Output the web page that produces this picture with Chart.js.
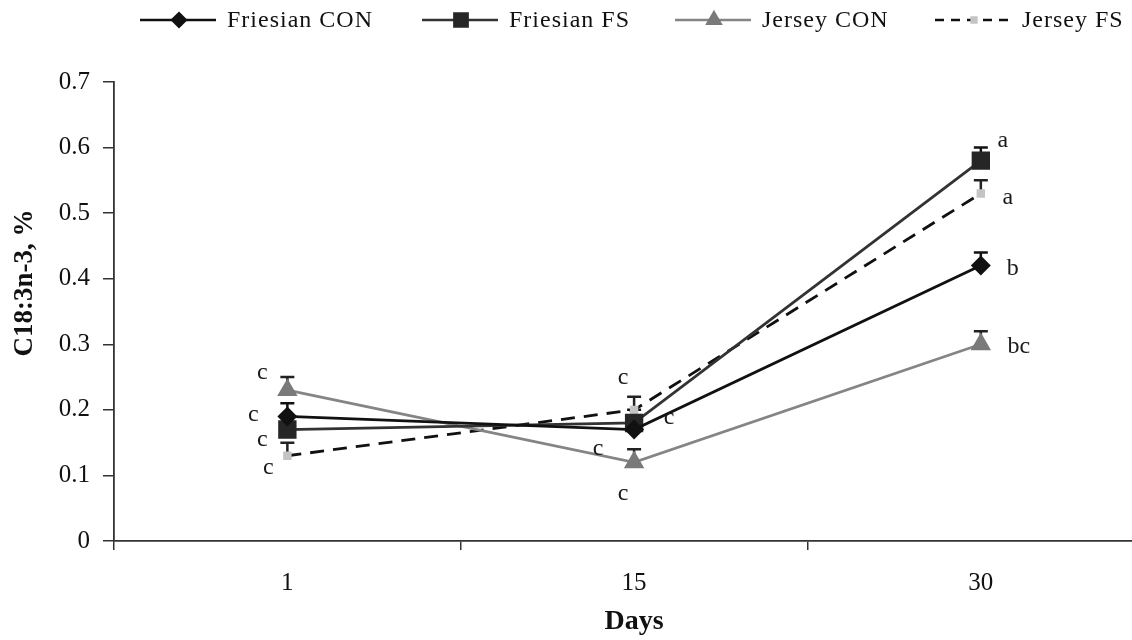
<!DOCTYPE html>
<html>
<head>
<meta charset="utf-8">
<script src="https://cdn.jsdelivr.net/npm/chart.js@4.4.1/dist/chart.umd.min.js"></script>
<style>
    html, body { margin: 0; padding: 0; background: #fff; overflow: hidden; }
    canvas { display: block; }
</style>
</head>
<body>
<canvas id="chart" width="1168" height="640"></canvas>
<script>
const days = ['1', '15', '30'];

const friesianCon = [0.19, 0.17, 0.42];
const friesianFs = [0.17, 0.18, 0.58];
const jerseyCon = [0.23, 0.12, 0.30];
const jerseyFs = [0.13, 0.20, 0.53];

const friesianConErr = [0.02, 0.02, 0.02];
const friesianFsErr = [0.02, 0.02, 0.02];
const jerseyConErr = [0.02, 0.02, 0.02];
const jerseyFsErr = [0.02, 0.02, 0.02];

const friesianConLetters = ['c', 'c', 'b'];
const friesianFsLetters = ['c', 'c', 'a'];
const jerseyConLetters = ['c', 'c', 'bc'];
const jerseyFsLetters = ['c', 'c', 'a'];

const serif = '"Liberation Serif", "DejaVu Serif", serif';

// upper-only error bars, drawn under the markers
const errorBars = {
    id: 'errorBars',
    beforeDatasetsDraw(chart) {
        const { ctx } = chart;
        const y = chart.scales.y;
        chart.data.datasets.forEach((ds, i) => {
            chart.getDatasetMeta(i).data.forEach((pt, j) => {
                const top = y.getPixelForValue(ds.data[j] + ds.errors[j]);
                ctx.save();
                ctx.strokeStyle = ds.errorColor;
                ctx.lineWidth = 2.5;
                ctx.beginPath();
                ctx.moveTo(pt.x, pt.y);
                ctx.lineTo(pt.x, top);
                ctx.moveTo(pt.x - 7, top);
                ctx.lineTo(pt.x + 7, top);
                ctx.stroke();
                ctx.restore();
            });
        });
    },
};

// significance letters beside each point
const letters = {
    id: 'letters',
    afterDatasetsDraw(chart) {
        const { ctx } = chart;
        ctx.save();
        ctx.font = '24px ' + serif;
        ctx.fillStyle = '#1a1a1a';
        ctx.textAlign = 'center';
        ctx.textBaseline = 'middle';
        chart.data.datasets.forEach((ds, i) => {
            chart.getDatasetMeta(i).data.forEach((pt, j) => {
                const [dx, dy] = ds.letterOffsets[j];
                ctx.fillText(ds.letters[j], pt.x + dx, pt.y + dy);
            });
        });
        ctx.restore();
    },
};

// y title sits a bit above the middle of the axis in the original
const yTitle = {
    id: 'yTitle',
    afterDraw(chart) {
        const { ctx } = chart;
        ctx.save();
        ctx.translate(25, 283);
        ctx.rotate(-Math.PI / 2);
        ctx.font = 'bold 27px ' + serif;
        ctx.fillStyle = '#111';
        ctx.textAlign = 'center';
        ctx.textBaseline = 'middle';
        ctx.fillText('C18:3n-3, %', 0, 0);
        ctx.restore();
    },
};

// legend row: short line with the marker on it, then the label
const lineLegend = {
    id: 'lineLegend',
    afterDraw(chart) {
        const { ctx } = chart;
        const starts = [140, 422, 675, 935];
        const y = 20;
        ctx.save();
        ctx.font = '24px ' + serif;
        ctx.letterSpacing = '1px';
        ctx.textBaseline = 'middle';
        chart.data.datasets.forEach((ds, i) => {
            const x = starts[i];
            ctx.strokeStyle = ds.borderColor;
            ctx.lineWidth = 2.5;
            ctx.setLineDash(ds.borderDash ? [9, 7] : []);
            ctx.beginPath();
            ctx.moveTo(x, y);
            ctx.lineTo(x + 76, y);
            ctx.stroke();
            ctx.setLineDash([]);
            ctx.fillStyle = ds.pointBackgroundColor;
            ctx.strokeStyle = ds.pointBorderColor;
            Chart.helpers.drawPoint(ctx, {
                pointStyle: ds.pointStyle,
                radius: ds.pointRadius * 0.85,
                borderWidth: 1,
            }, x + 39, y);
            ctx.fillStyle = '#111';
            ctx.fillText(ds.label, x + 87, y + 1);
        });
        ctx.restore();
    },
};

new Chart(document.getElementById('chart'), {
    type: 'line',
    data: {
        labels: days,
        datasets: [
            {
                label: 'Friesian CON',
                data: friesianCon,
                errors: friesianConErr,
                letters: friesianConLetters,
                letterOffsets: [[-34, -2], [-36, 19], [32, 3]],
                borderColor: '#111',
                errorColor: '#111',
                borderWidth: 2.8,
                pointStyle: 'rectRot',
                pointRadius: 8,
                pointBackgroundColor: '#111',
                pointBorderColor: '#111',
                tension: 0,
            },
            {
                label: 'Friesian FS',
                data: friesianFs,
                errors: friesianFsErr,
                letters: friesianFsLetters,
                letterOffsets: [[-25, 10], [35, -5], [22, -20]],
                borderColor: '#333',
                errorColor: '#111',
                borderWidth: 2.8,
                pointStyle: 'rect',
                pointRadius: 11,
                pointBackgroundColor: '#262626',
                pointBorderColor: '#262626',
                tension: 0,
            },
            {
                label: 'Jersey CON',
                data: jerseyCon,
                errors: jerseyConErr,
                letters: jerseyConLetters,
                letterOffsets: [[-25, -17], [-11, 31], [38, 2]],
                borderColor: '#858585',
                errorColor: '#222',
                borderWidth: 2.8,
                pointStyle: 'triangle',
                pointRadius: 9,
                pointBackgroundColor: '#7a7a7a',
                pointBorderColor: '#7a7a7a',
                tension: 0,
            },
            {
                label: 'Jersey FS',
                data: jerseyFs,
                errors: jerseyFsErr,
                letters: jerseyFsLetters,
                letterOffsets: [[-19, 12], [-11, -32], [27, 4]],
                borderColor: '#111',
                errorColor: '#222',
                borderWidth: 2.8,
                borderDash: [14, 9],
                pointStyle: 'rect',
                pointRadius: 4,
                pointBackgroundColor: '#c4c4c4',
                pointBorderColor: '#c4c4c4',
                tension: 0,
            },
        ],
    },
    options: {
        responsive: false,
        animation: false,
        layout: { padding: { top: 82, left: 0, right: 0, bottom: 0 } },
        plugins: {
            legend: { display: false },
            tooltip: { enabled: false },
        },
        scales: {
            x: {
                offset: true,
                grid: {
                    offset: true,
                    drawOnChartArea: false,
                    drawTicks: true,
                    tickLength: 9,
                    color: '#333',
                    lineWidth: 1.5,
                },
                border: { color: '#333', width: 1.8 },
                ticks: { color: '#111', font: { family: serif, size: 25 }, padding: 18 },
                title: {
                    display: true,
                    text: 'Days',
                    color: '#111',
                    font: { family: serif, size: 28, weight: 'bold' },
                    padding: { top: 4, bottom: 1 },
                },
                afterFit(scale) { scale.height = 99; },
            },
            y: {
                min: 0,
                max: 0.7,
                ticks: {
                    stepSize: 0.1,
                    color: '#111',
                    font: { family: serif, size: 25 },
                    padding: 13,
                    callback: (v) => (v === 0 ? '0' : v.toFixed(1)),
                },
                grid: {
                    drawOnChartArea: false,
                    drawTicks: true,
                    tickLength: 11,
                    color: '#333',
                    lineWidth: 1.5,
                },
                border: { color: '#333', width: 1.8 },
                afterFit(scale) { scale.width = 114; },
            },
        },
    },
    plugins: [errorBars, letters, yTitle, lineLegend],
});
</script>
</body>
</html>
